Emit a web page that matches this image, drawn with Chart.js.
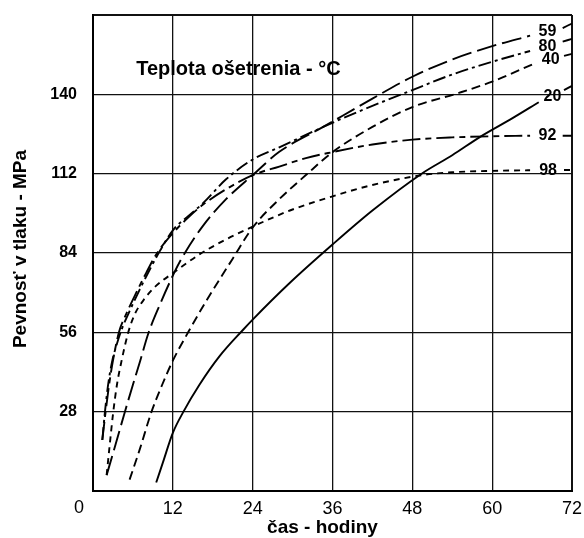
<!DOCTYPE html>
<html>
<head>
<meta charset="utf-8">
<script src="https://cdn.jsdelivr.net/npm/chart.js@4/dist/chart.umd.min.js"></script>
<style>
  html, body { margin: 0; padding: 0; background: #fff; }
  #wrap { width: 584px; height: 538px; }
</style>
</head>
<body>
<div id="wrap"><canvas id="chart" width="584" height="538"></canvas></div>
<script>
// Compressive strength (MPa) versus curing time (hours) for six curing temperatures.
// A null strength leaves room for the temperature label at the right end of each curve.
const xTicks = [0, 12, 24, 36, 48, 60, 72];
const yTicks = [28, 56, 84, 112, 140];

const hours20 = [9.5, 10.5, 12, 13.6, 16, 19, 22.6, 24, 29.6, 36, 42, 49.4, 54, 58.2, 63, 67, 68.9, 70.8, 72];
const mpa20   = [3, 10, 20.5, 28, 37.5, 47.5, 57, 60.5, 73.5, 87, 99, 112, 118.5, 125, 131.5, 137.2, null, 141.5, 143];

const hours40 = [5.5, 7, 8.8, 10.4, 12, 14.3, 17, 21, 24, 28, 32, 36, 42, 48, 55, 60, 66.5, 68.6, 70.8, 72];
const mpa40   = [4, 14.5, 28, 37.5, 46, 56, 67, 82, 93, 103, 111.5, 119.6, 128.5, 135.5, 140.5, 144.5, 151, null, 153.6, 154.3];

const hours59 = [2.05, 3.4, 4.8, 6, 7.1, 8.3, 10, 12.3, 13.3, 16.5, 20, 24, 28, 34.6, 42, 48, 54, 60, 65.7, 68.1, 70.6, 72];
const mpa59   = [5.6, 16.5, 28, 37.5, 46, 55.5, 65.5, 77.5, 82, 93.5, 103, 111.5, 119.7, 128.5, 138.5, 146.2, 152.3, 157, 160.7, null, 163.4, 165];

const hours80 = [1.4, 1.8, 2.3, 2.9, 3.6, 4.3, 5.5, 7, 8.5, 10, 12, 14.3, 16.5, 20, 24, 28, 34.6, 40, 48, 54, 60, 65.7, 68.1, 70.6, 72];
const mpa80   = [18, 28, 38, 46, 52, 57, 63.5, 71, 78, 84.5, 92, 97, 101.5, 110, 117, 121.3, 128.5, 134, 141.5, 147, 151.5, 155.3, null, 158.6, 159.6];

const hours92 = [1.4, 1.9, 2.45, 3, 3.9, 5, 6.5, 8, 9.5, 12, 14.3, 16.5, 20, 24, 28, 32, 36, 42, 48, 54, 60, 65.7, 68.1, 70.6, 72];
const mpa92   = [18, 28, 38, 46, 56, 62.5, 70, 77, 83.5, 91, 96.5, 101, 106.5, 111.5, 114.5, 117.5, 119.6, 122.3, 124, 124.8, 125.2, 125.4, null, 125.4, 125.4];

const hours98 = [2.05, 2.5, 3.05, 3.6, 4.3, 5.3, 6.3, 7.8, 9.3, 12.3, 16, 20, 24, 29.6, 36, 42, 49.5, 54, 60, 65.7, 68.2, 70.8, 72];
const mpa98   = [5.6, 16, 28, 37.5, 46, 56, 62.5, 68, 72, 77.4, 83.5, 88.8, 93.3, 99, 104, 108, 111.5, 112.5, 113, 113.2, null, 113.3, 113.3];

const curingTemps = ['20', '40', '59', '80', '92', '98'];
const curveHours  = [hours20, hours40, hours59, hours80, hours92, hours98];
const curveMpa    = [mpa20, mpa40, mpa59, mpa80, mpa92, mpa98];
const curveDashes = [[], [9, 5], [20, 6], [13, 4, 3, 4], [18, 5, 6, 5], [6, 5]];

const X_MAX = 72, Y_MAX = 168;
const BOLD = '"Liberation Sans", Arial, sans-serif';
const NARROW = '"Liberation Sans Narrow", "Arial Narrow", sans-serif';

const datasets = curingTemps.map((t, i) => ({
  label: t + ' °C',
  data: curveHours[i].map((h, j) => ({ x: h, y: curveMpa[i][j] })),
  borderColor: '#000',
  borderWidth: 1.9,
  borderDash: curveDashes[i],
  pointRadius: 0,
  fill: false,
  spanGaps: false,
  cubicInterpolationMode: 'monotone'
}));

// Temperature labels sit in the gap of each curve; titles and the origin "0" are drawn here too.
const annotations = {
  id: 'annotations',
  afterDatasetsDraw(chart) {
    const { ctx, chartArea, scales: { x, y } } = chart;
    ctx.save();
    ctx.fillStyle = '#000';

    ctx.font = 'bold 16px ' + BOLD;
    ctx.textAlign = 'center';
    ctx.textBaseline = 'middle';
    chart.data.datasets.forEach((ds, i) => {
      const pts = ds.data;
      const g = pts.findIndex(p => p.y === null);
      if (g < 1) return;
      const a = pts[g - 1], b = pts[g + 1];
      const px = x.getPixelForValue((a.x + b.x) / 2) + 1;
      const py = y.getPixelForValue((a.y + b.y) / 2);
      ctx.fillText(curingTemps[i], px, py);
    });

    ctx.font = 'bold 20px ' + BOLD;
    ctx.textAlign = 'left';
    ctx.textBaseline = 'alphabetic';
    ctx.fillText('Teplota ošetrenia - °C', x.getPixelForValue(6.5), y.getPixelForValue(147));

    ctx.font = '18px ' + NARROW;
    ctx.textAlign = 'center';
    ctx.textBaseline = 'middle';
    ctx.fillText('0', chartArea.left - 14, chartArea.bottom + 17);
    ctx.restore();
  },
  afterDraw(chart) {
    const { ctx, chartArea } = chart;
    ctx.save();
    ctx.fillStyle = '#000';
    ctx.font = 'bold 19px ' + BOLD;
    ctx.textAlign = 'center';
    ctx.textBaseline = 'middle';
    ctx.fillText('čas - hodiny', (chartArea.left + chartArea.right) / 2 - 10, chartArea.bottom + 37);
    ctx.translate(21, (chartArea.top + chartArea.bottom) / 2 - 4);
    ctx.rotate(-Math.PI / 2);
    ctx.fillText('Pevnosť v tlaku - MPa', 0, 0);
    ctx.restore();
  }
};

const edgeWidth = (max) => (c) => (c.tick && (c.tick.value === 0 || c.tick.value === max)) ? 2 : 1.3;

new Chart(document.getElementById('chart'), {
  type: 'line',
  data: { datasets },
  options: {
    responsive: false,
    devicePixelRatio: 1,
    animation: false,
    layout: { padding: { left: 0, top: 15, right: 12, bottom: 0 } },
    plugins: { legend: { display: false }, tooltip: { enabled: false } },
    scales: {
      x: {
        type: 'linear',
        min: 0, max: X_MAX,
        afterBuildTicks: (s) => { s.ticks = xTicks.map(v => ({ value: v })); },
        afterFit: (s) => { s.height = 47; s.paddingLeft = 0; s.paddingRight = 0; },
        ticks: {
          autoSkip: false,
          maxRotation: 0,
          padding: 7,
          color: '#000',
          font: { family: NARROW, size: 18 },
          callback: (v) => v === 0 ? '' : String(v)
        },
        grid: { color: '#111', lineWidth: edgeWidth(X_MAX), drawTicks: false },
        border: { display: true, color: '#000', width: 2 }
      },
      y: {
        type: 'linear',
        min: 0, max: Y_MAX,
        afterBuildTicks: (s) => { s.ticks = [0, ...yTicks, Y_MAX].map(v => ({ value: v })); },
        afterFit: (s) => { s.width = 93; s.paddingTop = 0; s.paddingBottom = 0; },
        ticks: {
          autoSkip: false,
          padding: 16,
          color: '#000',
          font: { family: BOLD, size: 16, weight: 'bold' },
          callback: (v) => yTicks.includes(v) ? String(v) : ''
        },
        grid: { color: '#111', lineWidth: edgeWidth(Y_MAX), drawTicks: false },
        border: { display: true, color: '#000', width: 2 }
      }
    }
  },
  plugins: [annotations]
});
</script>
</body>
</html>
